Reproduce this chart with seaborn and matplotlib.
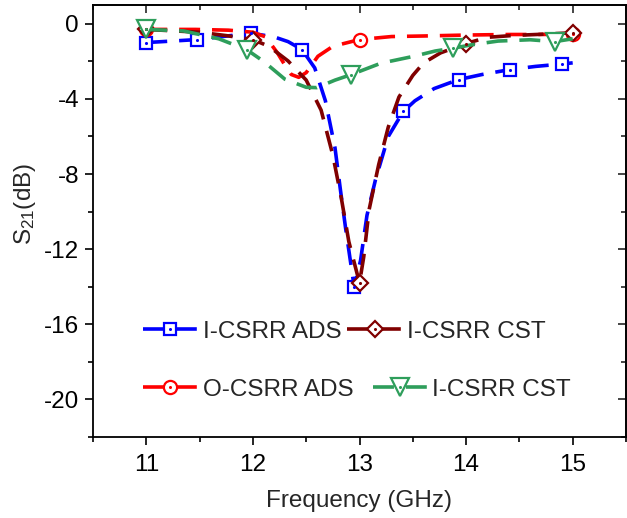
import matplotlib
matplotlib.use("Agg")
import matplotlib.pyplot as plt
from matplotlib.lines import Line2D
from matplotlib.legend_handler import HandlerTuple
from matplotlib.ticker import MultipleLocator
import numpy as np
import seaborn as sns

# --- S21 traces (frequency in GHz, magnitude in dB) ---
icsrr_ads_f = [11.0, 11.48, 11.98, 12.2, 12.33, 12.46, 12.58, 12.68, 12.77, 12.82, 12.87,
               12.95, 13.01, 13.07, 13.15, 13.27, 13.41, 13.52, 13.7, 13.93, 14.15, 14.41,
               14.65, 14.9, 15.0]
icsrr_ads_db = [-1.0, -0.84, -0.5, -0.7, -0.95, -1.37, -2.35, -4.1, -6.6, -8.8, -10.9,
                -14.0, -12.6, -10.2, -8.3, -6.0, -4.67, -4.1, -3.45, -2.97, -2.7, -2.44,
                -2.27, -2.14, -2.08]
icsrr_ads_marks = [0, 1, 2, 5, 11, 16, 19, 21, 23]

ocsrr_ads_f = [11.0, 11.46, 11.77, 12.0, 12.12, 12.23, 12.3, 12.36, 12.43, 12.5, 12.61,
               12.75, 13.0, 13.3, 13.6, 14.0, 14.4, 14.7, 15.0]
ocsrr_ads_db = [-0.3, -0.3, -0.34, -0.45, -0.7, -1.55, -2.2, -2.7, -2.85, -2.6, -1.73,
                -1.2, -0.84, -0.68, -0.65, -0.6, -0.57, -0.57, -0.55]
ocsrr_ads_marks = [0, 12, 18]

icsrr_cst_f = [11.0, 11.5, 11.75, 12.0, 12.15, 12.33, 12.5, 12.64, 12.75, 12.83, 12.9,
               13.0, 13.04, 13.09, 13.18, 13.27, 13.37, 13.5, 13.6, 13.76, 14.0, 14.2,
               14.45, 14.66, 15.0]
icsrr_cst_db = [-0.3, -0.45, -0.63, -0.84, -1.2, -1.98, -3.0, -4.6, -7.0, -9.3, -11.6,
                -13.8, -12.4, -9.9, -7.5, -5.5, -3.9, -2.75, -2.09, -1.55, -1.05, -0.72,
                -0.62, -0.57, -0.48]
icsrr_cst_marks = [0, 3, 11, 20, 24]

icsrr_cst2_f = [11.0, 11.35, 11.68, 11.94, 12.1, 12.3, 12.5, 12.6, 12.77, 12.92, 13.2,
                13.51, 13.71, 13.88, 14.05, 14.3, 14.6, 14.83, 15.0]
icsrr_cst2_db = [-0.3, -0.38, -0.8, -1.37, -2.0, -2.95, -3.38, -3.4, -3.0, -2.71, -2.1,
                 -1.73, -1.45, -1.3, -1.12, -0.92, -0.85, -0.95, -0.8]
icsrr_cst2_marks = [0, 3, 9, 13, 17]

labels = ["I-CSRR ADS", "I-CSRR CST", "O-CSRR ADS", "I-CSRR CST"]
x_ticks = [11, 12, 13, 14, 15]
y_ticks = [0, -4, -8, -12, -16, -20]

sns.set_theme(style="white")
plt.rcParams["font.family"] = ["Liberation Sans", "DejaVu Sans"]
plt.rcParams["mathtext.default"] = "regular"
plt.rcParams["axes.unicode_minus"] = False
FS = 17.5

fig = plt.figure(figsize=(6.27, 5.18), dpi=100)
ax = fig.add_axes([93 / 627, 81 / 518, 533 / 627, 432 / 518])

LW = 2.6
DASH = (0, (5.8, 3.3))
series = [
    (icsrr_ads_f, icsrr_ads_db, icsrr_ads_marks, "#0000ff", "s", 8.5),
    (ocsrr_ads_f, ocsrr_ads_db, ocsrr_ads_marks, "#ff0000", "o", 9.5),
    (icsrr_cst_f, icsrr_cst_db, icsrr_cst_marks, "#800000", "D", 8.0),
    (icsrr_cst2_f, icsrr_cst2_db, icsrr_cst2_marks, "#2e9e5b", "v", 13.0),
]
handles = {}
for f, db, marks, color, mk, ms in series:
    sns.lineplot(x=f, y=db, ax=ax, color=color, lw=LW, linestyle=DASH,
                 marker=mk, markevery=marks, markersize=ms, markerfacecolor="white",
                 markeredgecolor=color, markeredgewidth=1.6, sort=False,
                 dash_capstyle="butt")
    fx = np.asarray(f)[marks]
    fy = np.asarray(db)[marks]
    sns.scatterplot(x=fx, y=fy, ax=ax, color=color, s=5, linewidth=0, zorder=5)
    h_line = Line2D([], [], color=color, lw=LW, linestyle=DASH, marker=mk,
                    markersize=ms, markerfacecolor="white", markeredgecolor=color,
                    markeredgewidth=1.6)
    h_dot = Line2D([], [], color=color, linestyle="none", marker="o", markersize=2.2,
                   markeredgewidth=0)
    handles[mk] = (h_line, h_dot)

ax.set_xlim(10.5, 15.5)
ax.set_ylim(-22, 1)
ax.set_xticks(x_ticks)
ax.set_yticks(y_ticks)
ax.xaxis.set_minor_locator(MultipleLocator(0.5))
ax.yaxis.set_minor_locator(MultipleLocator(2))
ax.tick_params(axis="both", which="major", direction="out", length=6, width=1.2,
               labelsize=FS, colors="black", pad=4)
ax.tick_params(axis="x", which="major", pad=6)
ax.tick_params(axis="both", which="minor", direction="out", length=3.5, width=1.2,
               colors="black")
ax.tick_params(bottom=True, left=True, which="both")
for sp in ax.spines.values():
    sp.set_visible(True)
    sp.set_color("black")
    sp.set_linewidth(1.3)

# mirrored inward ticks on the top and right edges
top = ax.secondary_xaxis("top")
top.set_xticks(x_ticks)
top.xaxis.set_minor_locator(MultipleLocator(0.5))
top.tick_params(which="major", direction="in", length=6, width=1.2, labeltop=False)
top.tick_params(which="minor", direction="in", length=3.5, width=1.2)
top.spines["top"].set_linewidth(1.3)
right = ax.secondary_yaxis("right")
right.set_yticks(y_ticks)
right.yaxis.set_minor_locator(MultipleLocator(2))
right.tick_params(which="major", direction="in", length=6, width=1.2, labelright=False)
right.tick_params(which="minor", direction="in", length=3.5, width=1.2)
right.spines["right"].set_linewidth(1.3)

ax.set_xlabel("Frequency (GHz)", fontsize=FS, labelpad=10)
ax.set_ylabel(r"S$_{21}$(dB)", fontsize=FS)
ax.yaxis.set_label_coords(-0.103, 0.54)

leg_kw = dict(frameon=False, fontsize=FS, handlelength=2.25, handletextpad=0.2,
              borderpad=0, borderaxespad=0, loc="center left",
              handler_map={tuple: HandlerTuple(ndivide=1)})
leg1 = ax.legend([handles["s"], handles["D"]], [labels[0], labels[1]], ncol=2,
                 columnspacing=0.25, bbox_to_anchor=(0.094, 0.244), **leg_kw)
ax.add_artist(leg1)
ax.legend([handles["o"], handles["v"]], [labels[2], labels[3]], ncol=2,
          columnspacing=0.8, bbox_to_anchor=(0.094, 0.109), **leg_kw)

fig.savefig("out.png", dpi=100)
